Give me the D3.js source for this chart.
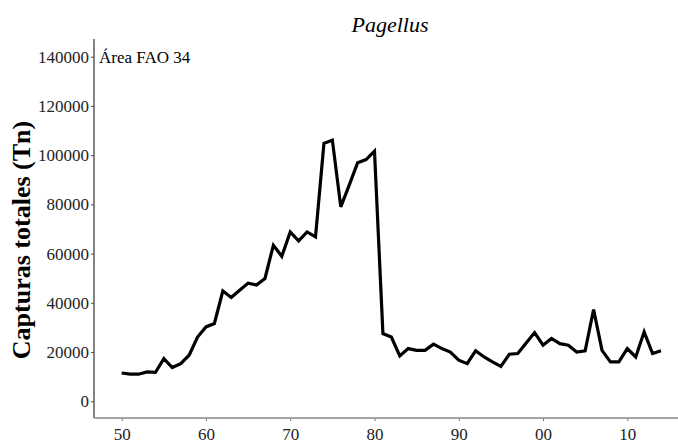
<!DOCTYPE html>
<html>
<head>
<meta charset="utf-8">
<script src="https://cdn.jsdelivr.net/npm/d3@7"></script>
<style>
  body { margin: 0; background: #fff; }
  svg text { font-family: "Liberation Serif", "Times New Roman", serif !important; }
</style>
</head>
<body>
<div id="chart"></div>
<script>
// capturas anuales, Pagellus, area FAO 34
var years = d3.range(1950, 2015);
var catches = [
  11500, 11000, 11000, 11900, 11700, 17300, 13700, 15300, 18700, 26100,
  30200, 31600, 44800, 42200, 45100, 48000, 47200, 49900, 63400, 58900,
  68800, 65200, 68800, 66800, 104800, 106100, 79000, 87800, 96900, 98200,
  101600, 27500, 26100, 18400, 21400, 20700, 20700, 23200, 21400, 20000,
  16700, 15300, 20500, 18000, 16000, 14200, 19100, 19400, 23700, 27900,
  22800, 25500, 23400, 22800, 20000, 20500, 37300, 20700, 16000, 16000,
  21400, 18000, 28200, 19400, 20500
];
var yTicks = [0, 20000, 40000, 60000, 80000, 100000, 120000, 140000];
var xTicks = [1950, 1960, 1970, 1980, 1990, 2000, 2010];

var W = 678, H = 442;
var mLeft = 94, mTop = 39, mBottom = 418;
var serif = "'Liberation Serif', 'Times New Roman', serif";

var svg = d3.select("#chart").append("svg")
  .attr("width", W)
  .attr("height", H);

var x = d3.scaleLinear()
  .domain([1950, 2014])
  .range([121.7, 661]);

var y = d3.scaleLinear()
  .domain([-6800, 147200])
  .range([mBottom, mTop]);

// eje y
var yAxis = svg.append("g")
  .attr("transform", "translate(" + mLeft + ",0)")
  .attr("font-family", serif)
  .call(d3.axisLeft(y).tickValues(yTicks).tickSize(3).tickPadding(2).tickFormat(d3.format("d")));
yAxis.select(".domain").remove();
yAxis.selectAll(".tick line").attr("stroke", "#555");
yAxis.selectAll("text")
  .attr("fill", "#222")
  .style("font-family", serif)
  .style("font-size", "17px");

svg.append("line")
  .attr("x1", mLeft).attr("x2", mLeft)
  .attr("y1", mTop).attr("y2", mBottom)
  .attr("stroke", "#333")
  .attr("stroke-width", 1.2);

// eje x
var xAxis = svg.append("g")
  .attr("transform", "translate(0," + mBottom + ")")
  .attr("font-family", serif)
  .call(d3.axisBottom(x).tickValues(xTicks).tickSize(3).tickPadding(7)
    .tickFormat(function(d) { return String(d % 100).padStart(2, "0"); }));
xAxis.select(".domain").remove();
xAxis.selectAll(".tick line").attr("stroke", "#777");
xAxis.selectAll("text")
  .attr("fill", "#222")
  .style("font-family", serif)
  .style("font-size", "17px");

svg.append("line")
  .attr("x1", mLeft).attr("x2", W)
  .attr("y1", mBottom).attr("y2", mBottom)
  .attr("stroke", "#888")
  .attr("stroke-width", 1.5);

// serie
var line = d3.line()
  .x(function(d, i) { return x(years[i]); })
  .y(function(d) { return y(d); });

svg.append("path")
  .datum(catches)
  .attr("d", line)
  .attr("fill", "none")
  .attr("stroke", "#000")
  .attr("stroke-width", 3.2)
  .attr("stroke-linejoin", "miter");

// textos
svg.append("text")
  .attr("x", 390)
  .attr("y", 32)
  .attr("text-anchor", "middle")
  .style("font-family", serif)
  .style("font-size", "22px")
  .style("font-style", "italic")
  .text("Pagellus");

svg.append("text")
  .attr("x", 99)
  .attr("y", 63)
  .style("font-family", serif)
  .style("font-size", "17px")
  .text("Área FAO 34");

svg.append("text")
  .attr("transform", "translate(30,240) rotate(-90)")
  .attr("text-anchor", "middle")
  .style("font-family", serif)
  .style("font-size", "26px")
  .style("font-weight", "bold")
  .text("Capturas totales (Tn)");
</script>
</body>
</html>
